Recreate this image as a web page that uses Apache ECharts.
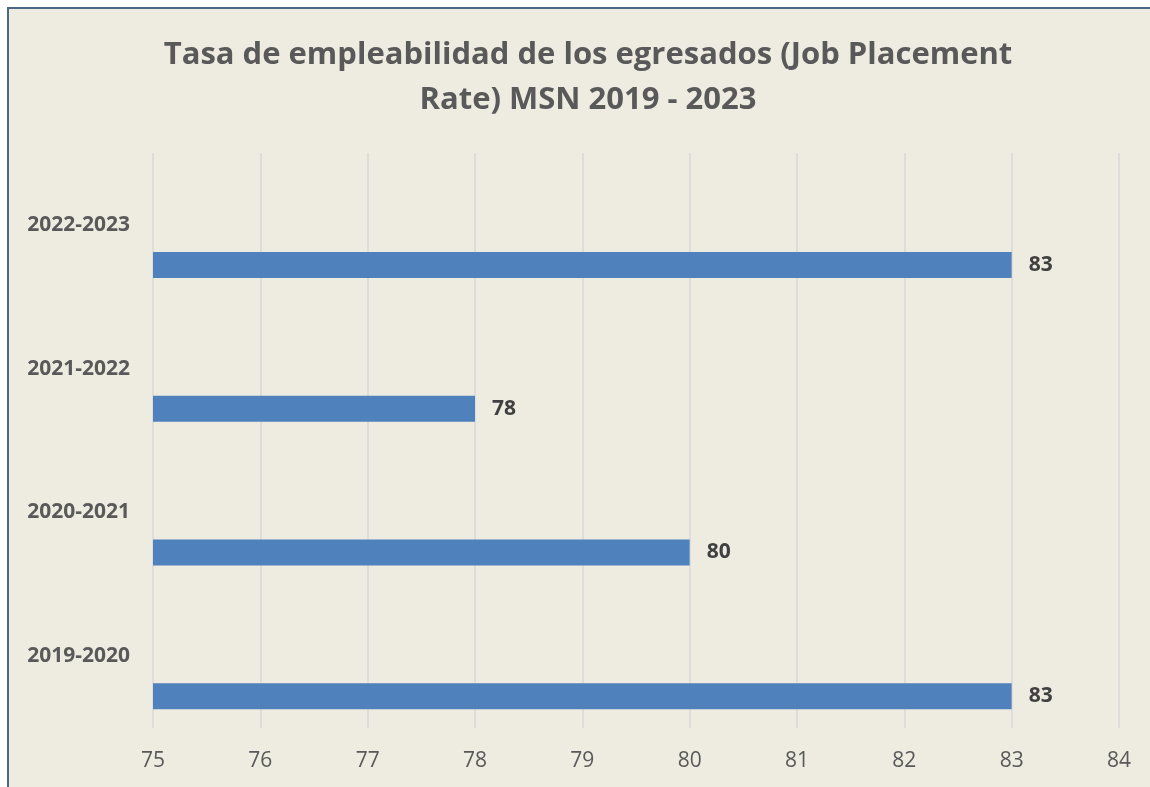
<!DOCTYPE html>
<html>
<head>
<meta charset="utf-8">
<script src="https://cdn.jsdelivr.net/npm/echarts@6/dist/echarts.min.js"></script>
<style>
  html, body { margin: 0; padding: 0; background: #ffffff; overflow: hidden; }
  #frame {
    position: absolute; left: 7px; top: 7px; width: 1160px; height: 800px;
    background: #EEEBE0; border: 2px solid #4a6788; box-sizing: border-box;
  }
  #chart { position: absolute; left: 0; top: 0; width: 1150px; height: 787px; }
</style>
</head>
<body>
<div id="frame"></div>
<div id="chart"></div>
<script>
const categories = ['2019-2020', '2020-2021', '2021-2022', '2022-2023'];
const placementRate = [83, 80, 78, 83];
const emptySeries = [null, null, null, null];

const chart = echarts.init(document.getElementById('chart'));

var option = {
  backgroundColor: 'transparent',
  title: {
    text: 'Tasa de empleabilidad de los egresados (Job Placement\nRate) MSN 2019 - 2023',
    left: 583,
    top: 28,
    textAlign: 'center',
    textStyle: {
      fontFamily: 'Open Sans',
      fontSize: 31,
      fontWeight: 'bold',
      color: '#595959',
      lineHeight: 45
    }
  },
  grid: {
    left: 153,
    right: 31,
    top: 153,
    bottom: 59
  },
  xAxis: {
    type: 'value',
    min: 75,
    max: 84,
    interval: 1,
    axisLine: { show: false },
    axisTick: { show: false },
    axisLabel: {
      margin: 23,
      fontFamily: 'Open Sans',
      fontSize: 21,
      color: '#595959'
    },
    splitLine: {
      lineStyle: { color: '#d9d9d9', width: 1.5 }
    }
  },
  yAxis: {
    type: 'category',
    data: categories,
    axisLine: { show: false },
    axisTick: { show: false },
    axisLabel: {
      margin: 23,
      fontFamily: 'Open Sans',
      fontSize: 21,
      fontWeight: 'bold',
      color: '#595959'
    }
  },
  series: [{
    name: 'vacío',
    type: 'bar',
    data: emptySeries,
    barWidth: 26,
    barGap: '208%'
  }, {
    name: 'Job Placement Rate',
    type: 'bar',
    data: placementRate,
    barWidth: 26,
    barGap: '208%',
    itemStyle: { color: '#4F81BD' },
    label: {
      show: true,
      position: 'right',
      distance: 17,
      fontFamily: 'Open Sans',
      fontSize: 21,
      fontWeight: 'bold',
      color: '#404040'
    }
  }]
};

chart.setOption(option);
</script>
</body>
</html>
